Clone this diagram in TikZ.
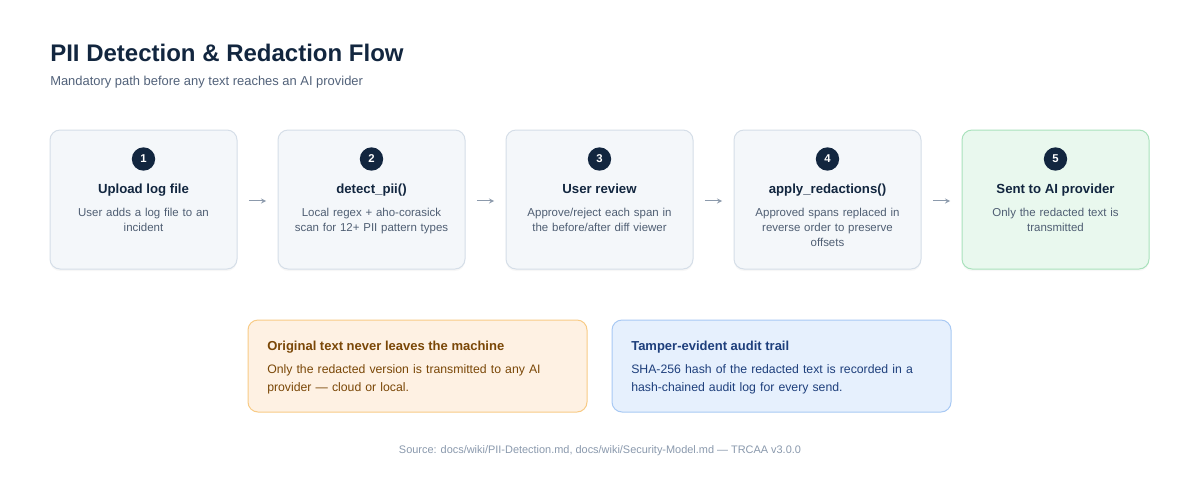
\documentclass[tikz,border=0pt]{standalone}
\usepackage{fontspec}
\setmainfont{Liberation Sans}
\usepackage{xcolor}
\usetikzlibrary{positioning}
\usetikzlibrary{shadows}

\definecolor{navy}{HTML}{12263F}
\definecolor{subgray}{HTML}{52627A}
\definecolor{descgray}{HTML}{4F5E73}
\definecolor{cardfill}{HTML}{F4F7FA}
\definecolor{cardline}{HTML}{D5DEE8}
\definecolor{greenfill}{HTML}{E9F8EE}
\definecolor{greenline}{HTML}{A9E2BC}
\definecolor{arrowgray}{HTML}{8C9AAC}
\definecolor{orangefill}{HTML}{FEF1E3}
\definecolor{orangeline}{HTML}{F8CB86}
\definecolor{orangetext}{HTML}{7A4707}
\definecolor{bluefill}{HTML}{E6F0FD}
\definecolor{blueline}{HTML}{A8C9F4}
\definecolor{bluetext}{HTML}{1E3F7C}
\definecolor{srcgray}{HTML}{8A99AD}

\tikzset{
	stepcard/.style={draw=cardline, fill=cardfill, line width=0.75pt, rounded corners=7.5pt,
		minimum width=140.25pt, minimum height=104.25pt, inner sep=0pt,
		drop shadow={opacity=0.06, shadow xshift=0pt, shadow yshift=-1.5pt}},
	badge/.style={circle, fill=navy, text=white, inner sep=0pt, minimum size=17.5pt,
		font=\bfseries\fontsize{8.5}{9}\selectfont},
	cardtitle/.style={anchor=base, text=navy, inner sep=0pt, font=\bfseries\fontsize{9.9}{12}\selectfont},
	carddesc/.style={anchor=north, text=descgray, align=center, text width=138pt, inner sep=0pt,
		font=\fontsize{8.6}{11.25}\selectfont},
	flow/.style={->, >=stealth, draw=arrowgray, line width=0.75pt, shorten >=8.5pt, shorten <=8.5pt},
	notebox/.style={line width=0.75pt, rounded corners=7.5pt, minimum width=254.25pt,
		minimum height=69pt, inner sep=0pt},
	notetitle/.style={anchor=base west, inner sep=0pt, font=\bfseries\fontsize{9.75}{11}\selectfont},
	notetext/.style={anchor=north west, inner sep=0pt, align=left, text width=250pt,
		font=\fontsize{9.2}{13.5}\selectfont}
}

\begin{document}
\begin{tikzpicture}[x=0.75pt, y=-0.75pt]
	
	\useasboundingbox [fill=white] (0,0) rectangle (1200,480);
	
	% heading
	\node [anchor=base west, inner sep=0pt, text=navy, font=\bfseries\fontsize{18}{21}\selectfont] (title) at (50,61) {PII Detection \& Redaction Flow};
	\node [anchor=base west, inner sep=0pt, text=subgray, font=\fontsize{9.7}{11}\selectfont] (subtitle) at (50,85) {Mandatory path before any text reaches an AI provider};
	
	% the five steps
	\node [stepcard] (s1) at (143.5,199.5) {};
	\node [badge] (b1) at (143.5,159) {1};
	\node [cardtitle] (t1) at (143.5,193.5) {Upload log file};
	\node [carddesc] (d1) at (143.5,207.5) {User adds a log file to an\\incident};
	
	\node [stepcard] (s2) at (371.5,199.5) {};
	\node [badge] (b2) at (371.5,159) {2};
	\node [cardtitle] (t2) at (371.5,193.5) {detect\_pii()};
	\node [carddesc] (d2) at (371.5,207.5) {Local regex + aho-corasick\\scan for 12+ PII pattern types};
	
	\node [stepcard] (s3) at (599.5,199.5) {};
	\node [badge] (b3) at (599.5,159) {3};
	\node [cardtitle] (t3) at (599.5,193.5) {User review};
	\node [carddesc] (d3) at (599.5,207.5) {Approve/reject each span in\\the before/after diff viewer};
	
	\node [stepcard] (s4) at (827.5,199.5) {};
	\node [badge] (b4) at (827.5,159) {4};
	\node [cardtitle] (t4) at (827.5,193.5) {apply\_redactions()};
	\node [carddesc] (d4) at (827.5,207.5) {Approved spans replaced in\\reverse order to preserve\\offsets};
	
	\node [stepcard, draw=greenline, fill=greenfill] (s5) at (1055.5,199.5) {};
	\node [badge] (b5) at (1055.5,159) {5};
	\node [cardtitle] (t5) at (1055.5,193.5) {Sent to AI provider};
	\node [carddesc] (d5) at (1055.5,207.5) {Only the redacted text is\\transmitted};
	
	\draw [flow] ([yshift=-1.1pt]s1.east) -- ([yshift=-1.1pt]s2.west);
	\draw [flow] ([yshift=-1.1pt]s2.east) -- ([yshift=-1.1pt]s3.west);
	\draw [flow] ([yshift=-1.1pt]s3.east) -- ([yshift=-1.1pt]s4.west);
	\draw [flow] ([yshift=-1.1pt]s4.east) -- ([yshift=-1.1pt]s5.west);
	
	% notes
	\node [notebox, draw=orangeline, fill=orangefill] (n1) at (417.5,366) {};
	\node [notetitle, text=orangetext] (n1t) at (267,350) {Original text never leaves the machine};
	\node [notetext, text=orangetext] (n1d) at (267,364) {Only the redacted version is transmitted to any AI\\provider — cloud or local.};
	
	\node [notebox, draw=blueline, fill=bluefill] (n2) at (781.5,366) {};
	\node [notetitle, text=bluetext] (n2t) at (631,350) {Tamper-evident audit trail};
	\node [notetext, text=bluetext] (n2d) at (631,364) {SHA-256 hash of the redacted text is recorded in a\\hash-chained audit log for every send.};
	
	\node [anchor=base, inner sep=0pt, text=srcgray, font=\fontsize{8.2}{9}\selectfont] (src) at (600,453) {Source: docs/wiki/PII-Detection.md, docs/wiki/Security-Model.md — TRCAA v3.0.0};
	
\end{tikzpicture}
\end{document}
